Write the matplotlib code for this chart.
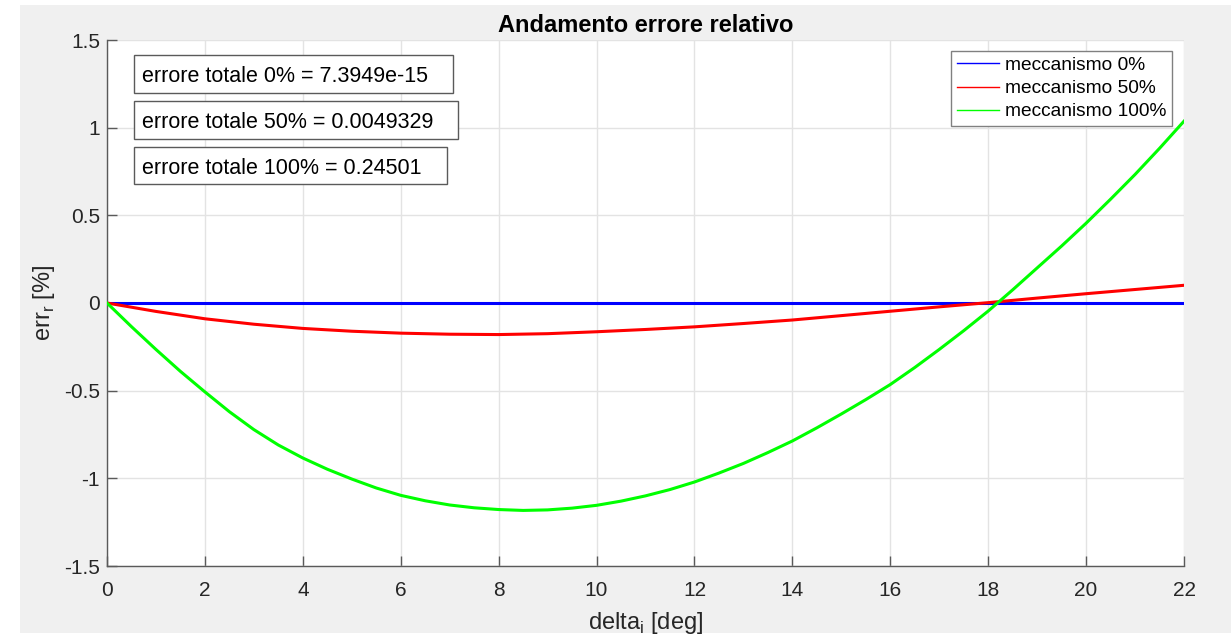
import matplotlib
matplotlib.use("Agg")
import matplotlib.pyplot as plt
from matplotlib.patches import Rectangle
from matplotlib.lines import Line2D

plt.rcParams['font.family'] = ['Liberation Sans', 'DejaVu Sans']
plt.rcParams['mathtext.fontset'] = 'custom'
plt.rcParams['mathtext.rm'] = 'Liberation Sans'

# ---- data ----
delta_green = [0, 0.5, 1, 1.5, 2, 2.5, 3, 3.5, 4, 4.5, 5, 5.5, 6, 6.5, 7, 7.5, 8, 8.5, 9, 9.5, 10,
               10.5, 11, 11.5, 12, 12.5, 13, 13.5, 14, 14.5, 15, 15.5, 16, 16.5, 17, 17.5, 18,
               18.5, 19, 19.5, 20, 20.5, 21, 21.5, 22]
err_100 = [0, -0.135, -0.265, -0.390, -0.507, -0.620, -0.722, -0.810, -0.884, -0.948, -1.004,
           -1.055, -1.097, -1.128, -1.152, -1.168, -1.178, -1.183, -1.180, -1.170, -1.154,
           -1.130, -1.100, -1.064, -1.021, -0.970, -0.915, -0.853, -0.787, -0.712, -0.633,
           -0.551, -0.465, -0.368, -0.265, -0.158, -0.046, 0.075, 0.200, 0.325, 0.455,
           0.592, 0.733, 0.882, 1.037]
delta = [0, 1, 2, 3, 4, 5, 6, 7, 8, 9, 10, 11, 12, 13, 14, 15, 16, 17, 18, 19, 20, 21, 22]
err_50 = [0, -0.048, -0.090, -0.121, -0.145, -0.161, -0.172, -0.178, -0.180, -0.175, -0.164,
          -0.151, -0.136, -0.117, -0.097, -0.072, -0.047, -0.022, 0.002, 0.028, 0.053, 0.077, 0.101]
err_0 = [0.0] * len(delta)

series_labels = ['meccanismo 0%', 'meccanismo 50%', 'meccanismo 100%']
series_colors = ['#0000ff', '#ff0000', '#00ff00']
box_texts = ['errore totale 0% = 7.3949e-15',
             'errore totale 50% = 0.0049329',
             'errore totale 100% = 0.24501']
x_ticks = list(range(0, 23, 2))
y_ticks = [-1.5, -1, -0.5, 0, 0.5, 1, 1.5]
y_ticklabels = ['-1.5', '-1', '-0.5', '0', '0.5', '1', '1.5']

W, H = 1231, 634
fig = plt.figure(figsize=(W / 100, H / 100), dpi=100, facecolor='white')
fig.patches.append(Rectangle((20 / W, 1 / H), 1, 1 - 6 / H, transform=fig.transFigure,
                             facecolor='#f0f0f0', edgecolor='none', zorder=-10))

ax = fig.add_axes([107 / W, 1 - 566 / H, (1184 - 107) / W, (566 - 40) / H])
ax.set_facecolor('white')

ax.plot(delta, err_0, color=series_colors[0], lw=2.2, zorder=3)
ax.plot(delta, err_50, color=series_colors[1], lw=2.2, zorder=3)
ax.plot(delta_green, err_100, color=series_colors[2], lw=2.2, zorder=3)

ax.set_xlim(0, 22)
ax.set_ylim(-1.5, 1.5)
ax.set_xticks(x_ticks)
ax.set_yticks(y_ticks)
ax.set_yticklabels(y_ticklabels)
ax.grid(True, color='#e3e3e3', lw=1)
ax.set_axisbelow(True)
for s in ['top', 'right']:
    ax.spines[s].set_visible(False)
for s in ['left', 'bottom']:
    ax.spines[s].set_color('#5a5a5a')
    ax.spines[s].set_linewidth(1)
ax.tick_params(direction='in', length=7, width=1, color='#5a5a5a', labelsize=15,
               labelcolor='#262626')
ax.tick_params(axis='x', pad=11)
ax.tick_params(axis='y', pad=5)

ax.set_title('Andamento errore relativo', fontsize=17, fontweight='bold', pad=6, color='black')
ax.set_xlabel(r'delta$_\mathregular{i}$ [deg]', fontsize=17, color='#262626', labelpad=7)
ax.set_ylabel(r'err$_\mathregular{r}$ [%]', fontsize=17, color='#262626', labelpad=5)

handles = [Line2D([], [], color=c, lw=1) for c in series_colors]
leg = ax.legend(handles, series_labels, loc='upper right',
                bbox_to_anchor=((1172 - 107) / 1077, (566 - 51) / 526),
                fontsize=13.8, frameon=True, fancybox=False, framealpha=1,
                edgecolor='#808080', handlelength=2.2, handletextpad=0.3,
                labelspacing=0.3, borderpad=0.3, borderaxespad=0)
leg.get_frame().set_linewidth(1)

# text annotation boxes (x0, y0, x1, y1 in pixel from top-left)
boxes = [(134, 55, 453, 93), (134, 101, 458, 139), (134, 147, 447, 184)]
for (x0, y0, x1, y1), t in zip(boxes, box_texts):
    fig.patches.append(Rectangle((x0 / W, 1 - y1 / H), (x1 - x0) / W, (y1 - y0) / H,
                                 transform=fig.transFigure, facecolor='white',
                                 edgecolor='#5a5a5a', lw=1, zorder=5))
    fig.text((x0 + 8) / W, 1 - (y0 + 27) / H, t, fontsize=15.5, color='black',
             va='baseline', ha='left', zorder=6)

fig.savefig('out.png', dpi=100, facecolor=fig.get_facecolor())
